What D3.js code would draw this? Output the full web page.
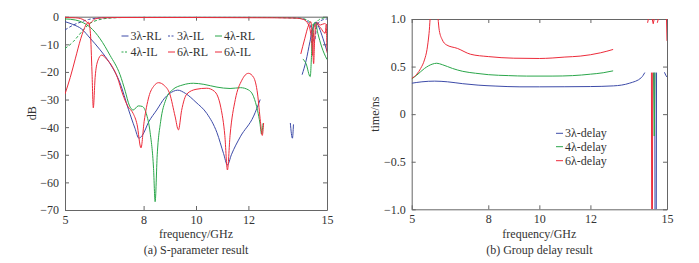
<!DOCTYPE html>
<html>
<head>
<meta charset="utf-8">
<script src="https://cdn.jsdelivr.net/npm/d3@7"></script>
<style>
  body { margin: 0; background: #fff; }
  text { font-family: "Liberation Serif", "Times New Roman", serif; fill: #333; }
</style>
</head>
<body>
<div id="chart"></div>
<script>
// ---- data ----
const freqTicks = [5, 8, 10, 12, 15];
const dbTicks = [0, -10, -20, -30, -40, -50, -60, -70];
const delayTicks = [1, 0.5, 0, -0.5, -1];

// S-parameters, [GHz, dB]; null breaks a curve
const rl3 = [[5.0,-1.8],[5.3,-2.8],[5.64,-4.5],[5.96,-7.8],[6.34,-12],[6.72,-17],[7.1,-24],[7.42,-33.5],[7.67,-40.4],[7.82,-44],[7.95,-43],[8.2,-38],[8.5,-33.8],[8.8,-29.5],[9.14,-27],[9.3,-26.6],[9.6,-27.8],[10.0,-31],[10.41,-35],[10.8,-42],[11.05,-49.5],[11.2,-53.7],[11.35,-50],[11.69,-43.5],[12.2,-36],[12.45,-30],
  null,[13.6,-38.5],[13.68,-44],[13.72,-39],
  null,[14.05,-21],[14.2,-16],[14.35,-9],[14.5,-3],[14.58,-2],[14.7,-4],[14.85,-8],[15.0,-12.5]];
const il3 = [[5.0,-4.8],[5.32,-3],[5.64,-1.8],[5.9,-1],[6.3,-0.5],[7,-0.3],[9,-0.2],[11,-0.2],[13,-0.3],[13.9,-0.5],[14.2,-1.2],[14.35,-3],[14.45,-7],[14.52,-9],[14.6,-4],[14.75,-1.5],[15,-0.8]];
const rl4 = [[5.0,-0.8],[5.4,-1.2],[5.7,-2.2],[5.96,-3.8],[6.34,-8],[6.72,-14],[7.1,-21],[7.3,-27],[7.45,-32],[7.6,-33.8],[7.8,-32.3],[7.95,-32.5],[8.1,-35],[8.25,-42],[8.38,-55],[8.44,-67],[8.52,-50],[8.65,-38],[8.85,-30],[9.1,-26.5],[9.5,-24.7],[9.9,-24.1],[10.3,-24.5],[10.8,-25.5],[11.3,-26],[11.7,-25.7],[12.0,-26.5],[12.2,-29],[12.35,-34],[12.44,-38.5],[12.5,-42.5],[12.56,-38.6],
  null,[14.08,-15.3],[14.2,-17],[14.36,-21.7],[14.42,-12],[14.48,-3],[14.55,-2],[14.65,-6],[14.8,-11],[15.0,-15.5]];
const il4 = [[5.0,-11.5],[5.32,-9],[5.5,-7],[5.7,-4.8],[5.96,-2.4],[6.26,-1.2],[6.6,-0.6],[7.2,-0.3],[9,-0.2],[11,-0.2],[13,-0.3],[14.0,-0.6],[14.3,-1.5],[14.45,-3],[14.55,-3.5],[14.65,-1.5],[14.8,-0.6],[15,-0.3]];
const rl6 = [[5.0,-28],[5.2,-22],[5.4,-15],[5.6,-8],[5.8,-3],[5.9,-2],[5.97,-6],[6.03,-20],[6.08,-33],[6.15,-22],[6.25,-16],[6.4,-13.9],[6.6,-15.5],[6.8,-18],[7.0,-22],[7.2,-28],[7.4,-32.5],[7.6,-35],[7.75,-39],[7.9,-47.5],[8.02,-38],[8.2,-29],[8.4,-25],[8.57,-23.9],[8.8,-25],[9.0,-28],[9.2,-36],[9.33,-41],[9.45,-34],[9.65,-28],[10.0,-26.3],[10.41,-25.9],[10.7,-27],[10.95,-33],[11.1,-43],[11.2,-55.5],[11.3,-43],[11.5,-30],[11.75,-23],[12.0,-20.5],[12.2,-22],[12.35,-28],[12.46,-38],[12.53,-43],[12.58,-38.5],
  null,[14.0,-13.5],[14.15,-8],[14.3,-3],[14.38,-1.8],[14.44,-8],[14.49,-17],[14.53,-8],[14.6,-2.5],[14.75,-4],[14.93,-6],[14.97,-3],[15.0,-13]];
const il6 = [[5.0,-0.3],[5.4,-0.4],[5.6,-0.7],[5.8,-1.6],[5.92,-2.6],[6.02,-1.8],[6.15,-0.8],[6.4,-0.4],[7,-0.3],[10,-0.3],[13,-0.4],[13.8,-0.5],[14.1,-1],[14.3,-3],[14.4,-8],[14.45,-14],[14.5,-4],[14.6,-2],[14.75,-3],[14.9,-2.5],[15,-3]];

// group delay, [GHz, ns]
const delay3 = [[5.0,0.325],[5.4,0.34],[5.9,0.347],[6.4,0.34],[7.0,0.32],[7.6,0.305],[8.3,0.295],[9.24,0.287],[10.0,0.287],[11.0,0.288],[12.0,0.29],[12.9,0.297],[13.54,0.326],[14.0,0.385],[14.13,0.437]];
const delay3Spike = [[14.52,0.437],[14.53,-1],null,[14.58,-1],[14.59,0.437],null,[14.9,0.44],[14.95,0.41],[15.0,0.39]];
const delay4 = [[5.0,0.37],[5.2,0.41],[5.5,0.48],[5.8,0.525],[5.98,0.535],[6.2,0.52],[6.6,0.48],[7.0,0.45],[7.5,0.43],[8.0,0.415],[8.8,0.405],[9.5,0.4],[10.5,0.4],[11.3,0.405],[12.0,0.42],[12.5,0.435],[12.89,0.455]];
const delay4Spike = [[14.47,0.437],[14.5,-0.23],[14.53,0.437]];
const delay6 = [[5.0,0.375],[5.2,0.42],[5.35,0.48],[5.5,0.57],[5.6,0.68],[5.68,0.85],[5.76,1.1],[5.98,1.1],[6.08,0.88],[6.2,0.78],[6.35,0.73],[6.8,0.69],[7.3,0.63],[8.0,0.605],[9.0,0.588],[10.0,0.585],[10.5,0.59],[11.0,0.6],[11.6,0.61],[12.4,0.645],[12.89,0.68]];
const delay6Spike = [[14.39,0.437],[14.4,-1],null,[14.43,-1],[14.44,0.437],null,[14.24,0.96],[14.27,1.0],null,[14.42,1.0],[14.46,0.95],[14.5,1.0],null,[14.62,0.96],[14.66,1.0],null,[14.98,1.0],[15.0,0.77]];

const blue = "#3d4ba8", green = "#2aa64a", red = "#ec2b3a";

const svg = d3.select("#chart").append("svg")
    .attr("width", 699)
    .attr("height", 263);

// Draws one framed panel with axes, curves and captions
function draw_panel(p) {
    const x = d3.scaleLinear().domain([5, 15]).range([p.left, p.right]);
    const y = d3.scaleLinear().domain(p.yDomain).range([p.bottom, p.top]);
    const g = svg.append("g");

    g.append("clipPath").attr("id", p.id + "clip")
        .append("rect")
        .attr("x", p.left).attr("y", p.top)
        .attr("width", p.right - p.left).attr("height", p.bottom - p.top);

    const axes = [
        [d3.axisBottom(x), `translate(0,${p.bottom})`, true],
        [d3.axisTop(x), `translate(0,${p.top})`, false],
    ];
    axes.forEach(([ax, tr, lab]) => {
        ax.tickValues(freqTicks).tickSizeInner(-4).tickSizeOuter(0).tickPadding(5);
        if (!lab) ax.tickFormat("");
        g.append("g").attr("transform", tr).call(ax);
    });
    const yAxes = [
        [d3.axisLeft(y), `translate(${p.left},0)`, true],
        [d3.axisRight(y), `translate(${p.right},0)`, false],
    ];
    yAxes.forEach(([ax, tr, lab]) => {
        ax.tickValues(p.yTicks).tickSizeInner(-4).tickSizeOuter(0).tickPadding(6)
          .tickFormat(lab ? p.yFormat : "");
        g.append("g").attr("transform", tr).call(ax);
    });
    g.selectAll(".domain, .tick line").attr("stroke", "#666");
    g.selectAll(".tick text")
        .style("font-family", "Liberation Serif, serif")
        .style("font-size", "12px")
        .attr("fill", "#333");

    const line = d3.line()
        .defined(d => d !== null)
        .x(d => x(d[0]))
        .y(d => y(d[1]));

    const plot = g.append("g").attr("clip-path", `url(#${p.id}clip)`);
    p.series.forEach(s => {
        line.curve(s.spike ? d3.curveLinear : d3.curveMonotoneX);
        plot.append("path")
            .attr("d", line(s.data))
            .attr("fill", "none")
            .attr("stroke", s.color)
            .attr("stroke-width", 1)
            .attr("stroke-dasharray", s.dash ? "3,2" : null);
    });

    // Legend entries
    p.legend.forEach(l => {
        g.append("line")
            .attr("x1", l.x).attr("x2", l.x + 7)
            .attr("y1", l.y).attr("y2", l.y)
            .attr("stroke", l.color)
            .attr("stroke-dasharray", l.dash ? "2,1.5" : null);
        g.append("text")
            .attr("x", l.x + 9).attr("y", l.y + 4)
            .style("font-size", "12px")
            .text(l.label);
    });

    const cx = (p.left + p.right) / 2;
    g.append("text")
        .attr("x", cx).attr("y", 238)
        .attr("text-anchor", "middle")
        .style("font-size", "12px")
        .text("frequency/GHz");
    g.append("text")
        .attr("x", cx).attr("y", 254)
        .attr("text-anchor", "middle")
        .style("font-size", "12px")
        .text(p.caption);
    g.append("text")
        .attr("transform", `translate(${p.yLabelX},${(p.top + p.bottom) / 2}) rotate(-90)`)
        .attr("text-anchor", "middle")
        .style("font-size", "12px")
        .text(p.yLabel);
}

draw_panel({
    id: "s", left: 65, right: 327, top: 16.7, bottom: 210,
    yDomain: [-70, 0], yTicks: dbTicks, yFormat: d3.format("d"),
    yLabel: "dB", yLabelX: 36, caption: "(a) S-parameter result",
    series: [
        { data: il3, color: blue, dash: true },
        { data: il4, color: green, dash: true },
        { data: il6, color: red },
        { data: rl3, color: blue },
        { data: rl4, color: green },
        { data: rl6, color: red },
    ],
    legend: [
        { x: 121.5, y: 36, color: blue, label: "3λ-RL" },
        { x: 168, y: 36, color: blue, dash: true, label: "3λ-IL" },
        { x: 215, y: 36, color: green, label: "4λ-RL" },
        { x: 121.5, y: 52, color: green, dash: true, label: "4λ-IL" },
        { x: 168, y: 52, color: red, label: "6λ-RL" },
        { x: 215, y: 52, color: red, label: "6λ-IL" },
    ],
});

draw_panel({
    id: "d", left: 411.7, right: 667, top: 19, bottom: 209.3,
    yDomain: [-1, 1], yTicks: delayTicks,
    yFormat: d => d === 0 ? "0" : d3.format(".1f")(d),
    yLabel: "time/ns", yLabelX: 379, caption: "(b) Group delay result",
    series: [
        { data: delay3, color: blue },
        { data: delay3Spike, color: blue, spike: true },
        { data: delay4, color: green },
        { data: delay4Spike, color: green, spike: true },
        { data: delay6, color: red },
        { data: delay6Spike, color: red, spike: true },
    ],
    legend: [
        { x: 556, y: 133.3, color: blue, label: "3λ-delay" },
        { x: 556, y: 146.7, color: green, label: "4λ-delay" },
        { x: 556, y: 160.7, color: red, label: "6λ-delay" },
    ],
});
</script>
</body>
</html>
